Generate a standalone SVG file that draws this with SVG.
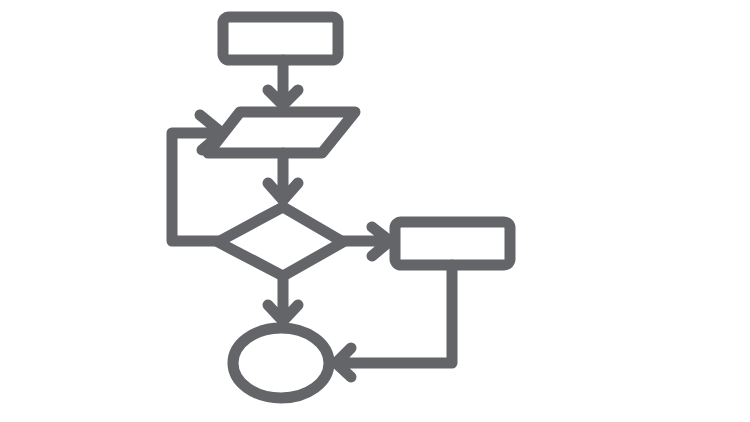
<svg xmlns="http://www.w3.org/2000/svg" width="750" height="422" viewBox="0 0 750 422">
<style>
.s{fill:none;stroke:#636569;stroke-width:11;stroke-linecap:round;stroke-linejoin:round}
</style>
<rect width="750" height="422" fill="#ffffff"/>
<g id="start"><rect class="s" x="223" y="17" width="115" height="43" rx="6"/></g>
<g id="input"><polygon class="s" points="240,112 355,112 322,153 208,153"/></g>
<g id="decision"><polygon class="s" points="283,207 343,242 283,276 218,242"/></g>
<g id="process"><rect class="s" x="395" y="222" width="115" height="43" rx="6"/></g>
<g id="end"><ellipse class="s" cx="281" cy="363" rx="48" ry="35"/></g>
<g id="connectors">
<path class="s" d="M283,60 V104 M268,90 L283,105 L298,90"/>
<path class="s" d="M283,153 V200 M268,183 L283,200 L298,183"/>
<path class="s" d="M283,276 V320 M268,305 L283,321 L298,305"/>
<path class="s" d="M218,241 H172 V133 H222 M200,115 L222,133 L202,150"/>
<path class="s" d="M343,241 H388 M372,227 L390,241 L372,256"/>
<path class="s" d="M452,265 V363 H337 M351,348 L336,363 L351,377"/>
</g>
</svg>
